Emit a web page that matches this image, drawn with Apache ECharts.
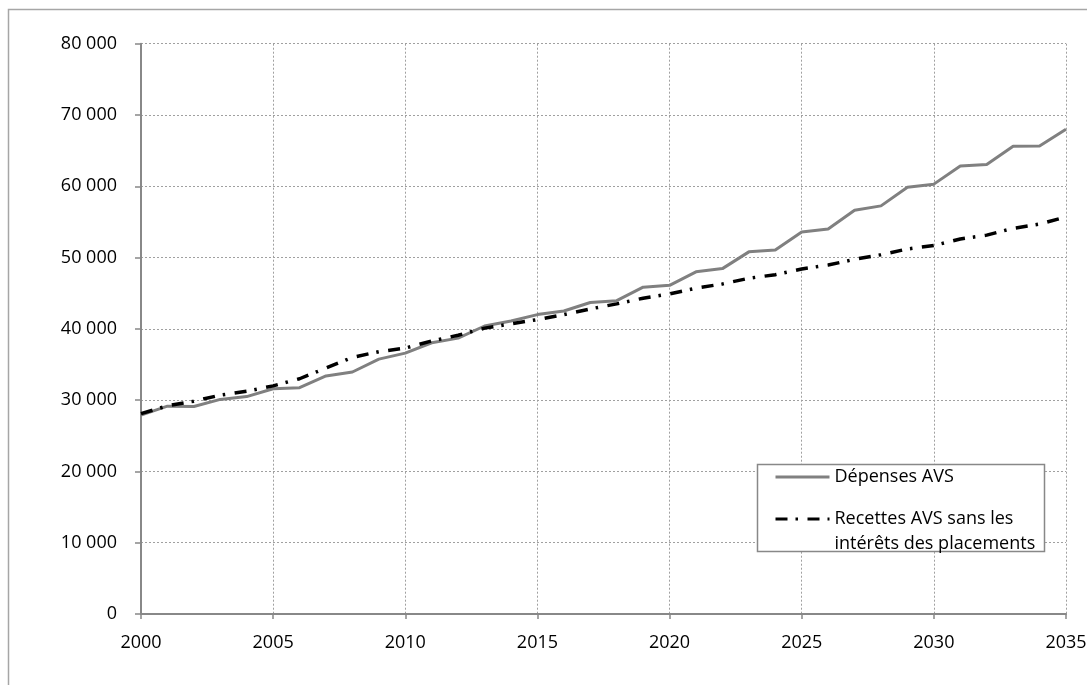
<!DOCTYPE html>
<html><head><meta charset="utf-8">
<script src="https://cdn.jsdelivr.net/npm/echarts@6/dist/echarts.min.js"></script>
<style>html,body{margin:0;padding:0;background:#fff}#c{width:1087px;height:685px}</style>
</head><body><div id="c"></div>
<script>
const years = [2000,2001,2002,2003,2004,2005,2006,2007,2008,2009,2010,2011,2012,2013,2014,2015,2016,2017,2018,2019,2020,2021,2022,2023,2024,2025,2026,2027,2028,2029,2030,2031,2032,2033,2034,2035];
const depenses = [27900,29150,29100,30100,30500,31600,31750,33400,33950,35750,36600,38050,38700,40400,41100,42000,42500,43700,43950,45850,46100,48000,48450,50800,51050,53600,54000,56650,57250,59850,60300,62850,63050,65600,65650,68000];
const recettes = [28100,29200,29850,30700,31250,32000,33000,34500,36000,36800,37300,38300,39100,40100,40700,41300,42000,42800,43500,44300,44900,45700,46300,47100,47600,48400,48950,49750,50400,51200,51700,52600,53150,54100,54700,55700];
const yTickLabels = ['0','10 000','20 000','30 000','40 000','50 000','60 000','70 000','80 000'];
const xTickLabels = ['2000','2005','2010','2015','2020','2025','2030','2035'];
const seriesNames = ['Dépenses AVS', 'Recettes AVS sans les\nintérêts des placements'];

const FONT = 'Open Sans';
const chart = echarts.init(document.getElementById('c'), null, {renderer: 'canvas'});
chart.setOption({
  animation: false,
  backgroundColor: '#fff',
  grid: {left: 141, right: 21, top: 43.7, bottom: 71, containLabel: false, outerBoundsMode: 'none'},
  xAxis: {
    type: 'value', min: 2000, max: 2035, interval: 5,
    axisLine: {show: true, lineStyle: {color: '#888', width: 2}},
    axisTick: {show: true, inside: false, length: 5, lineStyle: {color: '#888', width: 1.5}},
    axisLabel: {margin: 20, color: '#000', fontFamily: FONT, fontSize: 18,
      formatter: v => xTickLabels[Math.round((v - 2000) / 5)] || ''},
    splitLine: {show: true, lineStyle: {color: '#a0a0a0', width: 1, type: [2, 2]}}
  },
  yAxis: {
    type: 'value', min: 0, max: 80000, interval: 10000,
    axisLine: {show: true, lineStyle: {color: '#888', width: 2}},
    axisTick: {show: true, inside: false, length: 6, lineStyle: {color: '#888', width: 1.5}},
    axisLabel: {margin: 24, color: '#000', fontFamily: FONT, fontSize: 18,
      formatter: v => yTickLabels[Math.round(v / 10000)] || ''},
    splitLine: {show: true, lineStyle: {color: '#a0a0a0', width: 1, type: [2, 2]}}
  },
  legend: {
    orient: 'vertical', left: 774, top: 464.5, padding: 0, itemGap: -8,
    itemWidth: 54, itemHeight: 14,
    itemStyle: {opacity: 0},
    lineStyle: {width: 3},
    textStyle: {fontFamily: FONT, fontSize: 18, color: '#000', lineHeight: 25},
    formatter: name => name === seriesNames[1] ? '\n' + name : name,
    data: [{name: seriesNames[0]}, {name: seriesNames[1]}]
  },
  graphic: [
    {type: 'rect', z: 3, silent: true, shape: {x: 8.5, y: 9.5, width: 1100, height: 700},
      style: {fill: 'none', stroke: '#a6a6a6', lineWidth: 1.5}},
    {type: 'rect', z: 3, silent: true, shape: {x: 757.5, y: 464.5, width: 287, height: 87},
      style: {fill: '#fff', stroke: '#888', lineWidth: 1.5}}
  ],
  series: [
    {name: seriesNames[0], type: 'line', data: years.map((y, i) => [y, depenses[i]]),
      showSymbol: false, symbol: 'none', z: 2,
      lineStyle: {color: '#808080', width: 3}, itemStyle: {color: '#808080'}},
    {name: seriesNames[1], type: 'line', data: years.map((y, i) => [y, recettes[i]]),
      showSymbol: false, symbol: 'none', z: 2,
      lineStyle: {color: '#000', width: 3.5, type: [12, 8, 2.5, 9.5], cap: 'butt'}, itemStyle: {color: '#000'}}
  ]
});
</script></body></html>
